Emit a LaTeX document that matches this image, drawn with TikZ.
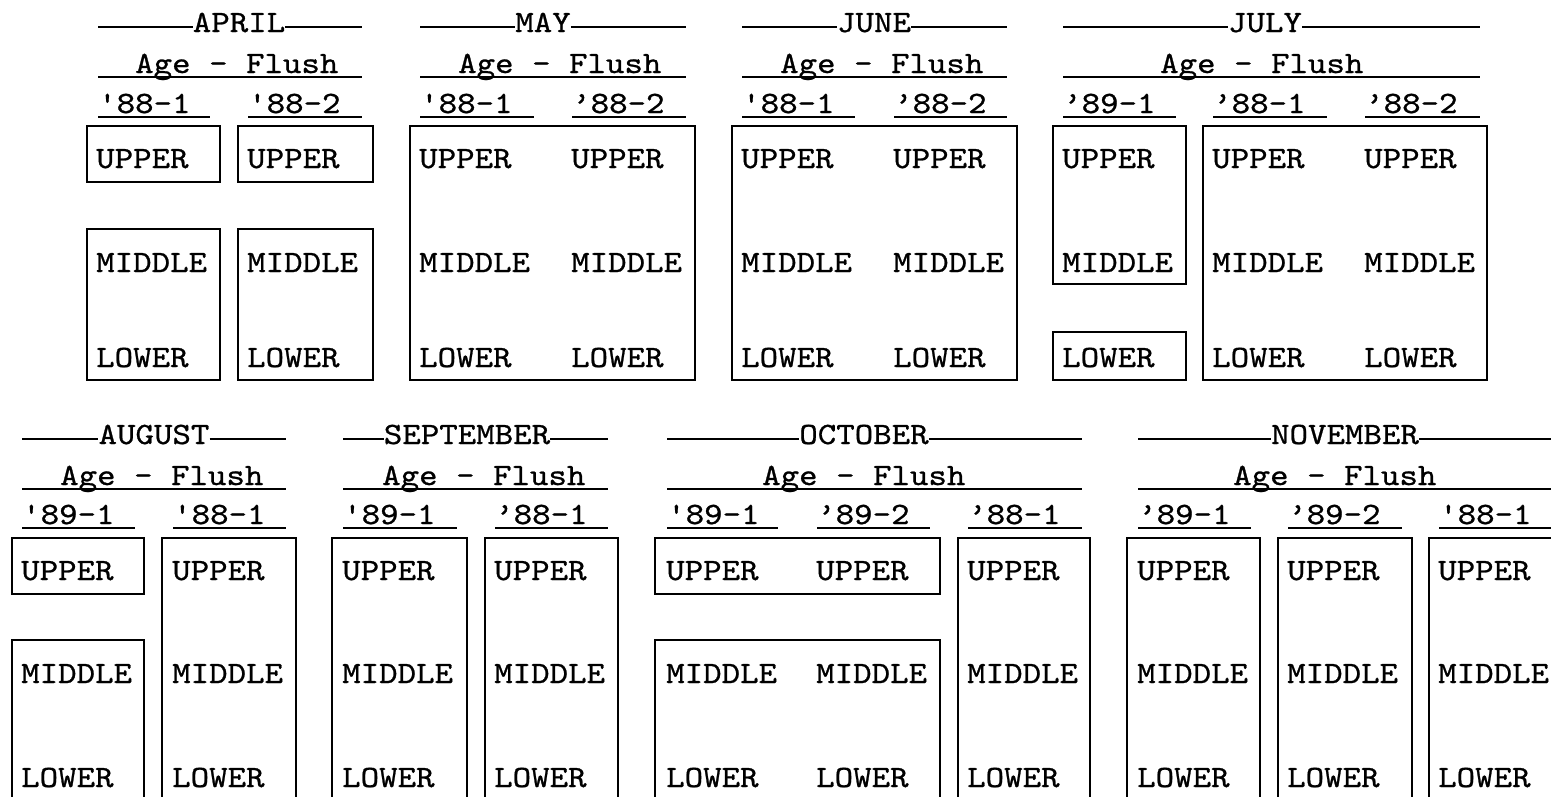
\documentclass[tikz,border=0pt]{standalone}
\usepackage{fontspec}
\setmonofont{lmmono10-regular.otf}[FakeStretch=1.135, FakeBold=0.8]
\usepackage{tikz}

\begin{document}
\begin{tikzpicture}[x=1pt, y=-1pt,
  every node/.style={font=\ttfamily\fontsize{31}{36}\selectfont, inner sep=0pt, anchor=base west},
  month/.style={anchor=base},
  rule/.style={line width=1.2pt},
  uline/.style={line width=1.8pt},
  box/.style={line width=1.6pt}]
  \useasboundingbox (0,0) rectangle (1551,796);
  \clip (0,0) rectangle (1551,796);
  % APRIL
  \node[month] (apr) at (239,32) {APRIL};
  \draw[rule] (98,27) -- (apr.west |- 0,27);
  \draw[rule] (apr.east |- 0,27) -- (362,27);
  \node (aprAF) at (135,73) {Age - Flush};
  \draw[uline] (98,77) -- (362,77);
  \node (apr1) at (98,113) {'88-1};
  \draw[uline] (98,117) -- (210,117);
  \node (apr2) at (248,113) {'88-2};
  \draw[uline] (248,117) -- (362,117);
  \draw[box] (87,126) rectangle (220,182);
  \draw[box] (238,126) rectangle (373,182);
  \draw[box] (87,229) rectangle (220,380);
  \draw[box] (238,229) rectangle (373,380);
  \node (aprU1) at (96,168) {UPPER};
  \node (aprU2) at (247,168) {UPPER};
  \node (aprM1) at (96,272) {MIDDLE};
  \node (aprM2) at (247,272) {MIDDLE};
  \node (aprL1) at (96,367) {LOWER};
  \node (aprL2) at (247,367) {LOWER};
  % MAY
  \node[month] (may) at (543,32) {MAY};
  \draw[rule] (420,27) -- (may.west |- 0,27);
  \draw[rule] (may.east |- 0,27) -- (686,27);
  \node (mayAF) at (458,73) {Age - Flush};
  \draw[uline] (420,77) -- (686,77);
  \node (may1) at (420,113) {'88-1};
  \draw[uline] (420,117) -- (534,117);
  \node (may2) at (572,113) {’88-2};
  \draw[uline] (572,117) -- (686,117);
  \draw[box] (410,126) rectangle (695,380);
  \node (mayU1) at (419,168) {UPPER};
  \node (mayU2) at (571,168) {UPPER};
  \node (mayM1) at (419,272) {MIDDLE};
  \node (mayM2) at (571,272) {MIDDLE};
  \node (mayL1) at (419,367) {LOWER};
  \node (mayL2) at (571,367) {LOWER};
  % JUNE
  \node[month] (jun) at (874,32) {JUNE};
  \draw[rule] (742,27) -- (jun.west |- 0,27);
  \draw[rule] (jun.east |- 0,27) -- (1007,27);
  \node (junAF) at (780,73) {Age - Flush};
  \draw[uline] (742,77) -- (1007,77);
  \node (jun1) at (742,113) {'88-1};
  \draw[uline] (742,117) -- (855,117);
  \node (jun2) at (894,113) {’88-2};
  \draw[uline] (894,117) -- (1007,117);
  \draw[box] (732,126) rectangle (1017,380);
  \node (junU1) at (741,168) {UPPER};
  \node (junU2) at (893,168) {UPPER};
  \node (junM1) at (741,272) {MIDDLE};
  \node (junM2) at (893,272) {MIDDLE};
  \node (junL1) at (741,367) {LOWER};
  \node (junL2) at (893,367) {LOWER};
  % JULY
  \node[month] (jul) at (1265,32) {JULY};
  \draw[rule] (1063,27) -- (jul.west |- 0,27);
  \draw[rule] (jul.east |- 0,27) -- (1480,27);
  \node (julAF) at (1160,73) {Age - Flush};
  \draw[uline] (1063,77) -- (1480,77);
  \node (jul1) at (1063,113) {’89-1};
  \draw[uline] (1063,117) -- (1176,117);
  \node (jul2) at (1213,113) {’88-1};
  \draw[uline] (1213,117) -- (1327,117);
  \node (jul3) at (1365,113) {’88-2};
  \draw[uline] (1365,117) -- (1480,117);
  \draw[box] (1053,126) rectangle (1186,284);
  \draw[box] (1053,332) rectangle (1186,380);
  \draw[box] (1203,126) rectangle (1487,380);
  \node (julU1) at (1062,168) {UPPER};
  \node (julU2) at (1212,168) {UPPER};
  \node (julU3) at (1364,168) {UPPER};
  \node (julM1) at (1062,272) {MIDDLE};
  \node (julM2) at (1212,272) {MIDDLE};
  \node (julM3) at (1364,272) {MIDDLE};
  \node (julL1) at (1062,367) {LOWER};
  \node (julL2) at (1212,367) {LOWER};
  \node (julL3) at (1364,367) {LOWER};
  % AUGUST
  \node[month] (aug) at (154,444) {AUGUST};
  \draw[rule] (22,439) -- (aug.west |- 0,439);
  \draw[rule] (aug.east |- 0,439) -- (286,439);
  \node (augAF) at (60,485) {Age - Flush};
  \draw[uline] (22,489) -- (286,489);
  \node (aug1) at (22,524) {'89-1};
  \draw[uline] (22,528) -- (135,528);
  \node (aug2) at (173,524) {'88-1};
  \draw[uline] (173,528) -- (286,528);
  \draw[box] (12,538) rectangle (144,594);
  \draw[box] (12,800) |- (144,640) -- (144,800);
  \draw[box] (162,800) |- (296,538) -- (296,800);
  \node (augU1) at (21,580) {UPPER};
  \node (augU2) at (172,580) {UPPER};
  \node (augM1) at (21,683) {MIDDLE};
  \node (augM2) at (172,683) {MIDDLE};
  \node (augL1) at (21,787) {LOWER};
  \node (augL2) at (172,787) {LOWER};
  % SEPTEMBER
  \node[month] (sep) at (467,444) {SEPTEMBER};
  \draw[rule] (343,439) -- (sep.west |- 0,439);
  \draw[rule] (sep.east |- 0,439) -- (608,439);
  \node (sepAF) at (382,485) {Age - Flush};
  \draw[uline] (343,489) -- (608,489);
  \node (sep1) at (343,524) {'89-1};
  \draw[uline] (343,528) -- (457,528);
  \node (sep2) at (495,524) {’88-1};
  \draw[uline] (495,528) -- (608,528);
  \draw[box] (332,800) |- (467,538) -- (467,800);
  \draw[box] (485,800) |- (618,538) -- (618,800);
  \node (sepU1) at (342,580) {UPPER};
  \node (sepU2) at (494,580) {UPPER};
  \node (sepM1) at (342,683) {MIDDLE};
  \node (sepM2) at (494,683) {MIDDLE};
  \node (sepL1) at (342,787) {LOWER};
  \node (sepL2) at (494,787) {LOWER};
  % OCTOBER
  \node[month] (oct) at (864,444) {OCTOBER};
  \draw[rule] (667,439) -- (oct.west |- 0,439);
  \draw[rule] (oct.east |- 0,439) -- (1082,439);
  \node (octAF) at (762,485) {Age - Flush};
  \draw[uline] (667,489) -- (1082,489);
  \node (oct1) at (667,524) {'89-1};
  \draw[uline] (667,528) -- (778,528);
  \node (oct2) at (817,524) {’89-2};
  \draw[uline] (817,528) -- (930,528);
  \node (oct3) at (968,524) {’88-1};
  \draw[uline] (968,528) -- (1082,528);
  \draw[box] (655,538) rectangle (940,594);
  \draw[box] (655,800) |- (940,640) -- (940,800);
  \draw[box] (958,800) |- (1090,538) -- (1090,800);
  \node (octU1) at (666,580) {UPPER};
  \node (octU2) at (816,580) {UPPER};
  \node (octU3) at (967,580) {UPPER};
  \node (octM1) at (666,683) {MIDDLE};
  \node (octM2) at (816,683) {MIDDLE};
  \node (octM3) at (967,683) {MIDDLE};
  \node (octL1) at (666,787) {LOWER};
  \node (octL2) at (816,787) {LOWER};
  \node (octL3) at (967,787) {LOWER};
  % NOVEMBER
  \node[month] (nov) at (1345,444) {NOVEMBER};
  \draw[rule] (1138,439) -- (nov.west |- 0,439);
  \draw[rule] (nov.east |- 0,439) -- (1560,439);
  \node (novAF) at (1233,485) {Age - Flush};
  \draw[uline] (1138,489) -- (1560,489);
  \node (nov1) at (1138,524) {’89-1};
  \draw[uline] (1138,528) -- (1251,528);
  \node (nov2) at (1288,524) {’89-2};
  \draw[uline] (1288,528) -- (1402,528);
  \node (nov3) at (1439,524) {'88-1};
  \draw[uline] (1439,528) -- (1560,528);
  \draw[box] (1127,800) |- (1260,538) -- (1260,800);
  \draw[box] (1278,800) |- (1412,538) -- (1412,800);
  \draw[box] (1429,800) |- (1562,538) -- (1562,800);
  \node (novU1) at (1137,580) {UPPER};
  \node (novU2) at (1287,580) {UPPER};
  \node (novU3) at (1438,580) {UPPER};
  \node (novM1) at (1137,683) {MIDDLE};
  \node (novM2) at (1287,683) {MIDDLE};
  \node (novM3) at (1438,683) {MIDDLE};
  \node (novL1) at (1137,787) {LOWER};
  \node (novL2) at (1287,787) {LOWER};
  \node (novL3) at (1438,787) {LOWER};
\end{tikzpicture}
\end{document}
